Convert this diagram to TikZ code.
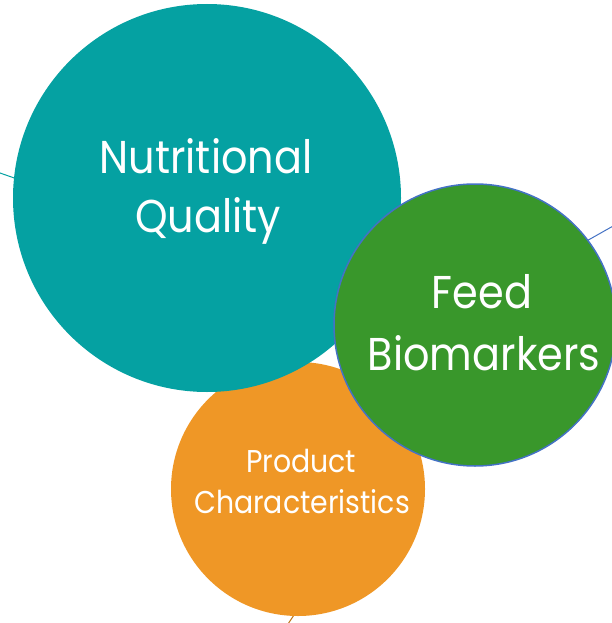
\documentclass[tikz,border=0pt]{standalone}
\usepackage{fontspec}
\setmainfont[FakeStretch=0.9]{Poppins}
\definecolor{tealfill}{RGB}{5,161,162}
\definecolor{greenfill}{RGB}{57,151,43}
\definecolor{orangefill}{RGB}{239,151,38}
\definecolor{rimblue}{RGB}{68,114,196}
\begin{document}
\begin{tikzpicture}[x=1pt,y=-1pt,
  bubble/.style={circle,inner sep=0pt,text=white,align=center},
  spoke/.style={line width=1pt},
  label/.style={text=white,anchor=base,inner sep=0pt}]
\useasboundingbox (0,0) rectangle (611,623);
% spokes running off the page, tucked behind the bubbles
\coordinate (tl0) at (-10,169.5);
\coordinate (tl1) at (40,187);
\coordinate (br0) at (560,256);
\coordinate (br1) at (622,221);
\coordinate (bo0) at (286,627);
\coordinate (bo1) at (296,612);
\draw[spoke,tealfill] (tl0) -- (tl1);
\draw[spoke,rimblue] (br0) -- (br1);
\draw[spoke,orangefill!80!black] (bo0) -- (bo1);
% bubbles
\node[bubble,fill=orangefill,minimum size=254pt] (prod) at (298,489) {};
\node[bubble,fill=tealfill,minimum size=388pt] (nutr) at (207,198) {};
\node[bubble,fill=greenfill,draw=rimblue,line width=1.5pt,minimum size=282pt] (feed) at (475,325) {};
% labels
\node[label,font=\fontsize{46}{64}\selectfont] (nutrA) at (206,173) {Nutritional};
\node[label,font=\fontsize{46}{64}\selectfont] (nutrB) at (208,232) {Quality};
\node[label,font=\fontsize{46}{63}\selectfont] (feedA) at (482,308) {Feed};
\node[label,font=\fontsize{46}{63}\selectfont] (feedB) at (484,370) {Biomarkers};
\node[label,font=\fontsize{31.5}{44}\selectfont] (prodA) at (301,472) {Product};
\node[label,font=\fontsize{31.5}{44}\selectfont] (prodB) at (302,513) {Characteristics};
\end{tikzpicture}
\end{document}
